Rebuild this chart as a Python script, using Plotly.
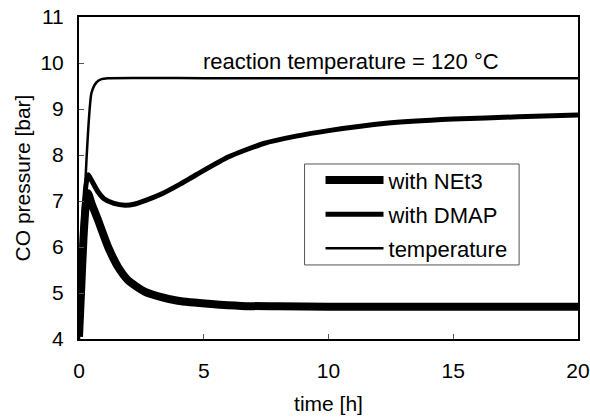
import plotly.graph_objects as go

# time [h]
t_net3 = [0, 0.08, 0.18, 0.28, 0.36, 0.5, 0.76, 1.16, 1.56, 1.96, 2.63, 3.3, 3.96, 5.3, 6.5, 8, 10, 12, 14, 16, 18, 20]
p_net3 = [4.05, 5.0, 6.2, 6.95, 7.17, 6.95, 6.59, 6.01, 5.57, 5.28, 5.03, 4.91, 4.83, 4.76, 4.72, 4.71, 4.70, 4.70, 4.70, 4.70, 4.70, 4.70]

t_dmap = [0, 0.08, 0.18, 0.28, 0.37, 0.5, 0.76, 1.0, 1.4, 1.85, 2.2, 2.7, 3.37, 4.0, 4.7, 6.0, 7.4, 8.7, 10.0, 12.3, 15.0, 17.6, 20.0]
p_dmap = [4.2, 5.3, 6.6, 7.35, 7.57, 7.45, 7.2, 7.05, 6.95, 6.91, 6.93, 7.02, 7.17, 7.35, 7.57, 7.96, 8.25, 8.41, 8.53, 8.69, 8.78, 8.83, 8.87]

t_temp = [0, 0.08, 0.17, 0.3, 0.5, 0.7, 0.9, 1.15, 5, 10, 15, 20]
p_temp = [4.0, 5.2, 6.4, 7.9, 9.35, 9.58, 9.65, 9.67, 9.67, 9.67, 9.67, 9.67]

x_ticks = [0, 5, 10, 15, 20]
y_ticks = [4, 5, 6, 7, 8, 9, 10, 11]

FONT = "Arial, Liberation Sans, sans-serif"
FS = 21
FL = 22

fig = go.Figure()
fig.add_trace(go.Scatter(x=t_net3, y=p_net3, mode="lines", name="with NEt3",
                         line=dict(color="black", width=8, shape="spline", smoothing=0.6),
                         legendgroup="a"))
fig.add_trace(go.Scatter(x=t_dmap, y=p_dmap, mode="lines", name="with DMAP",
                         line=dict(color="black", width=5, shape="spline", smoothing=0.6),
                         legendgroup="b"))
fig.add_trace(go.Scatter(x=t_temp, y=p_temp, mode="lines", name="temperature",
                         line=dict(color="black", width=2.5, shape="spline", smoothing=0.6),
                         legendgroup="c"))

fig.add_annotation(x=10.92, y=10.03, xref="x", yref="y", text="reaction temperature = 120 °C",
                   showarrow=False, font=dict(family=FONT, size=FL, color="black"))

# legend frame
fig.add_shape(type="rect", xref="paper", yref="paper", x0=0.452, x1=0.882, y0=0.23, y1=0.5435,
              line=dict(color="#555555", width=1), fillcolor="white", layer="above")

fig.update_layout(
    width=590, height=418,
    margin=dict(l=79, r=12, t=17, b=79),
    paper_bgcolor="white", plot_bgcolor="white",
    font=dict(family=FONT, size=FS, color="black"),
    showlegend=True,
    legend=dict(x=0.484, y=0.558, xanchor="left", yanchor="top",
                bgcolor="rgba(0,0,0,0)", borderwidth=0,
                font=dict(family=FONT, size=FL, color="black"),
                tracegroupgap=2.5, itemwidth=58),
    xaxis=dict(range=[0, 20], tickvals=x_ticks, ticks="inside", ticklen=5, tickwidth=1,
               tickcolor="#555555", showline=True, linecolor="black", linewidth=2, mirror=True,
               showgrid=False, zeroline=False, ticklabelstandoff=12, automargin=False,
               ticklabeloverflow="allow",
               title=dict(text="time [h]", font=dict(size=FS), standoff=15)),
    yaxis=dict(range=[4, 11], tickvals=y_ticks, ticks="inside", ticklen=5, tickwidth=1,
               tickcolor="#555555", showline=True, linecolor="black", linewidth=2, mirror=True,
               showgrid=False, zeroline=False, ticklabelstandoff=9, automargin=False,
               ticklabeloverflow="allow",
               title=dict(text="CO pressure [bar]", font=dict(size=FS), standoff=4)),
)

# remove the default 8px page margin so the figure sits at the window's top-left corner
fig.write_html("out.html", config={"displayModeBar": False},
               post_script="document.body.style.margin='0px';")
